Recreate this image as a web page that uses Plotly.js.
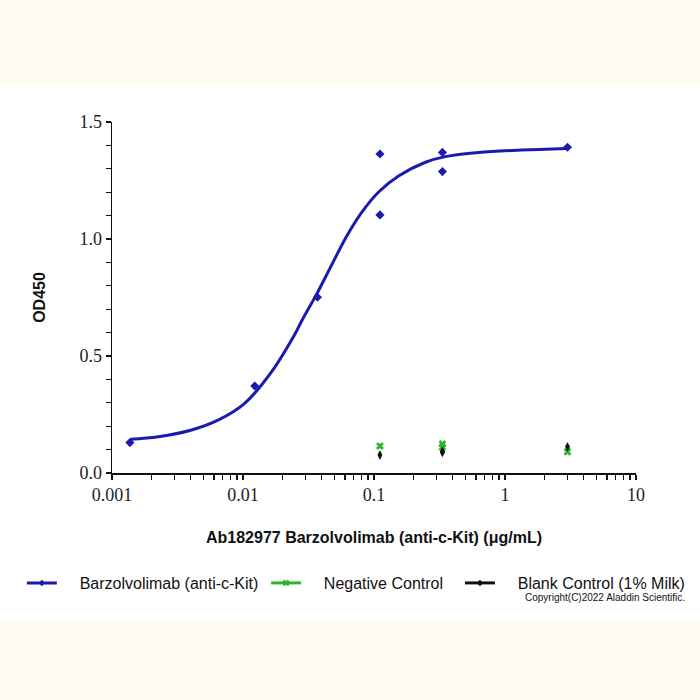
<!DOCTYPE html>
<html>
<head>
<meta charset="utf-8">
<script src="https://cdn.plot.ly/plotly-3.0.1.min.js"></script>
<style>
  html, body { margin: 0; padding: 0; }
  #chart {
    width: 700px; height: 700px;
    background: linear-gradient(to bottom, #fffbf2 0px, #fffbf2 85px, #ffffff 85px, #ffffff 620px, #fffbf2 620px);
  }
</style>
</head>
<body>
<div id="chart"></div>
<script>
// antibody points (µg/mL, OD450)
var abX = [0.00137, 0.0123, 0.037, 0.111, 0.111, 0.333, 0.333, 3];
var abY = [0.130, 0.372, 0.751, 1.363, 1.103, 1.370, 1.288, 1.392];

// fitted curve
var fitX = [0.00138, 0.00226, 0.00405, 0.00644, 0.0103, 0.0164, 0.0247, 0.0285, 0.0371, 0.0482, 0.0626, 0.0813, 0.109, 0.155, 0.247, 0.350, 0.627, 1.33, 2.95];
var fitY = [0.144, 0.155, 0.184, 0.226, 0.298, 0.430, 0.590, 0.657, 0.772, 0.896, 1.017, 1.117, 1.202, 1.270, 1.328, 1.352, 1.370, 1.380, 1.387];

// controls
var negX = [0.111, 0.333, 0.333, 3];
var negY = [0.115, 0.124, 0.110, 0.091];
var blankX = [0.111, 0.333, 0.333, 3];
var blankY = [0.077, 0.088, 0.092, 0.112];

var xMajor = [0.001, 0.01, 0.1, 1, 10];
var xMajorText = ['0.001', '0.01', '0.1', '1', '10'];
var yMajor = [0, 0.5, 1, 1.5];
var yMajorText = ['0.0', '0.5', '1.0', '1.5'];

// tick positions: majors labelled, log minors (2..9 per decade) and y minors every 0.1 unlabelled
var xTicks = [], xTickText = [];
xMajor.forEach(function (d, i) {
    xTicks.push(d); xTickText.push(xMajorText[i]);
    if (d < 10) for (var m = 2; m <= 9; m++) { xTicks.push(m * d); xTickText.push(''); }
});
var yTicks = [], yTickText = [];
yMajor.forEach(function (v, i) {
    yTicks.push(v); yTickText.push(yMajorText[i]);
    if (v < 1.5) for (var k = 1; k <= 4; k++) { yTicks.push(v + k * 0.1); yTickText.push(''); }
});

var blue = '#1a1aae';
var green = '#2db52d';
var black = '#111111';
var pad = '\u00a0\u00a0\u00a0\u00a0';

var data = [
    { x: fitX, y: fitY, mode: 'lines', line: { color: blue, width: 3, shape: 'spline' },
      showlegend: false, hoverinfo: 'skip' },
    { x: abX, y: abY, mode: 'markers', marker: { color: blue, symbol: 'diamond', size: 7 },
      showlegend: false },
    { x: negX, y: negY, mode: 'markers', marker: { color: green, symbol: 'x', size: 7 },
      showlegend: false },
    { x: blankX, y: blankY, mode: 'markers', marker: { color: black, symbol: 'diamond-tall', size: 7 },
      showlegend: false },
    // legend entries, one legend each so they sit on one row
    { x: [null], y: [null], mode: 'lines+markers', legend: 'legend',
      name: pad + 'Barzolvolimab (anti-c-Kit)',
      line: { color: blue, width: 3 }, marker: { color: blue, symbol: 'diamond', size: 5 } },
    { x: [null], y: [null], mode: 'lines+markers', legend: 'legend2',
      name: pad + 'Negative Control',
      line: { color: green, width: 3 }, marker: { color: green, symbol: 'x', size: 6 } },
    { x: [null], y: [null], mode: 'lines+markers', legend: 'legend3',
      name: pad + 'Blank Control (1% Milk)',
      line: { color: black, width: 3 }, marker: { color: black, symbol: 'diamond', size: 5 } }
];

var tickFont = { family: 'Liberation Serif', size: 18, color: '#222' };
var titleFont = { family: 'Liberation Sans', size: 16, color: '#111', weight: 'bold' };
var legendFont = { family: 'Liberation Sans', size: 16, color: '#111' };

function legendAt(x) {
    return { orientation: 'h', x: x, xanchor: 'left', y: -0.265, yanchor: 'top',
             font: legendFont, bgcolor: 'rgba(0,0,0,0)' };
}

var layout = {
    width: 700,
    height: 700,
    margin: { l: 112, r: 64, t: 122, b: 227, autoexpand: false },
    paper_bgcolor: 'rgba(0,0,0,0)',
    plot_bgcolor: 'rgba(0,0,0,0)',
    font: { family: 'Liberation Sans', color: '#111' },
    xaxis: {
        type: 'log',
        range: [-3, 1],
        tickvals: xTicks,
        ticktext: xTickText,
        ticks: 'outside',
        ticklen: 5,
        tickwidth: 1.2,
        tickcolor: '#111',
        showline: true,
        linecolor: '#111',
        linewidth: 1.5,
        showgrid: false,
        zeroline: false,
        tickfont: tickFont,
        title: { text: 'Ab182977 Barzolvolimab (anti-c-Kit) (μg/mL)', standoff: 27, font: titleFont }
    },
    yaxis: {
        range: [0, 1.5],
        tickvals: yTicks,
        ticktext: yTickText,
        ticks: 'outside',
        ticklen: 5,
        tickwidth: 1.2,
        tickcolor: '#111',
        showline: true,
        linecolor: '#111',
        linewidth: 1.5,
        showgrid: false,
        zeroline: false,
        tickfont: tickFont,
        title: { text: 'OD450', standoff: 30, font: titleFont }
    },
    legend: legendAt(-0.172),
    legend2: legendAt(0.294),
    legend3: legendAt(0.664),
    annotations: [{
        text: 'Copyright(C)2022 Aladdin Scientific.',
        xref: 'paper', yref: 'paper',
        x: 1.097, y: -0.356,
        xanchor: 'right', yanchor: 'middle',
        showarrow: false,
        font: { family: 'Liberation Sans', size: 10, color: '#111' }
    }]
};

Plotly.newPlot('chart', data, layout, { displayModeBar: false, staticPlot: true });
</script>
</body>
</html>
